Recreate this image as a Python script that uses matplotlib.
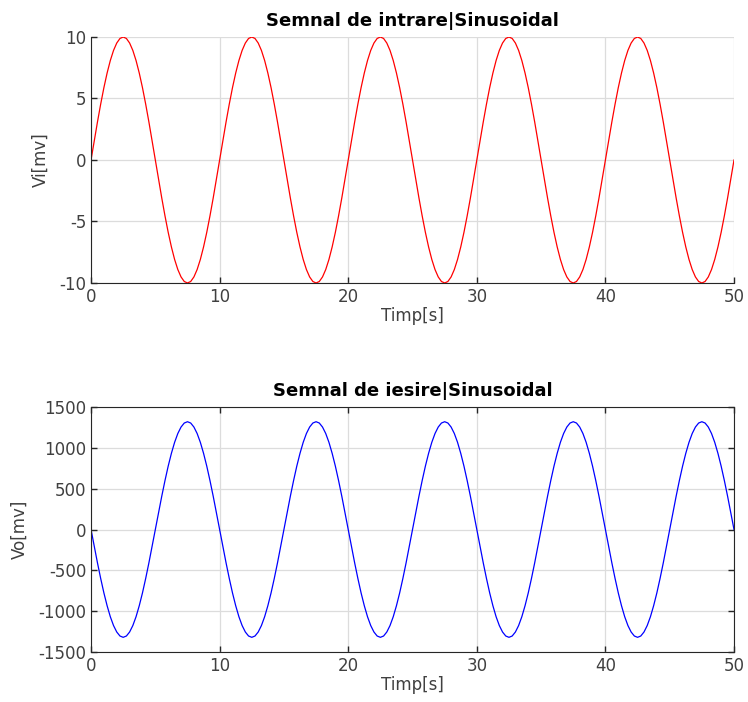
import numpy as np
import matplotlib.pyplot as plt

plt.rcParams["axes.unicode_minus"] = False

# Time axis: 0 .. 50 s, sampled every 0.25 s
t = np.arange(201) * 0.25

# Input signal Vi [mV] (period 10 s, amplitude 10)
vi = [
    0, 1.56, 3.09, 4.54, 5.88, 7.07, 8.09, 8.91, 9.51, 9.88,
    10, 9.88, 9.51, 8.91, 8.09, 7.07, 5.88, 4.54, 3.09, 1.56,
    0, -1.56, -3.09, -4.54, -5.88, -7.07, -8.09, -8.91, -9.51, -9.88,
    -10, -9.88, -9.51, -8.91, -8.09, -7.07, -5.88, -4.54, -3.09, -1.56,
    0, 1.56, 3.09, 4.54, 5.88, 7.07, 8.09, 8.91, 9.51, 9.88,
    10, 9.88, 9.51, 8.91, 8.09, 7.07, 5.88, 4.54, 3.09, 1.56,
    0, -1.56, -3.09, -4.54, -5.88, -7.07, -8.09, -8.91, -9.51, -9.88,
    -10, -9.88, -9.51, -8.91, -8.09, -7.07, -5.88, -4.54, -3.09, -1.56,
    0, 1.56, 3.09, 4.54, 5.88, 7.07, 8.09, 8.91, 9.51, 9.88,
    10, 9.88, 9.51, 8.91, 8.09, 7.07, 5.88, 4.54, 3.09, 1.56,
    0, -1.56, -3.09, -4.54, -5.88, -7.07, -8.09, -8.91, -9.51, -9.88,
    -10, -9.88, -9.51, -8.91, -8.09, -7.07, -5.88, -4.54, -3.09, -1.56,
    0, 1.56, 3.09, 4.54, 5.88, 7.07, 8.09, 8.91, 9.51, 9.88,
    10, 9.88, 9.51, 8.91, 8.09, 7.07, 5.88, 4.54, 3.09, 1.56,
    0, -1.56, -3.09, -4.54, -5.88, -7.07, -8.09, -8.91, -9.51, -9.88,
    -10, -9.88, -9.51, -8.91, -8.09, -7.07, -5.88, -4.54, -3.09, -1.56,
    0, 1.56, 3.09, 4.54, 5.88, 7.07, 8.09, 8.91, 9.51, 9.88,
    10, 9.88, 9.51, 8.91, 8.09, 7.07, 5.88, 4.54, 3.09, 1.56,
    0, -1.56, -3.09, -4.54, -5.88, -7.07, -8.09, -8.91, -9.51, -9.88,
    -10, -9.88, -9.51, -8.91, -8.09, -7.07, -5.88, -4.54, -3.09, -1.56,
    0,
]

# Output signal Vo [mV] (inverted, peak ~1320)
vo = [
    0, -206, -408, -599, -776, -933, -1068, -1176, -1255, -1304,
    -1320, -1304, -1255, -1176, -1068, -933, -776, -599, -408, -206,
    0, 206, 408, 599, 776, 933, 1068, 1176, 1255, 1304,
    1320, 1304, 1255, 1176, 1068, 933, 776, 599, 408, 206,
    0, -206, -408, -599, -776, -933, -1068, -1176, -1255, -1304,
    -1320, -1304, -1255, -1176, -1068, -933, -776, -599, -408, -206,
    0, 206, 408, 599, 776, 933, 1068, 1176, 1255, 1304,
    1320, 1304, 1255, 1176, 1068, 933, 776, 599, 408, 206,
    0, -206, -408, -599, -776, -933, -1068, -1176, -1255, -1304,
    -1320, -1304, -1255, -1176, -1068, -933, -776, -599, -408, -206,
    0, 206, 408, 599, 776, 933, 1068, 1176, 1255, 1304,
    1320, 1304, 1255, 1176, 1068, 933, 776, 599, 408, 206,
    0, -206, -408, -599, -776, -933, -1068, -1176, -1255, -1304,
    -1320, -1304, -1255, -1176, -1068, -933, -776, -599, -408, -206,
    0, 206, 408, 599, 776, 933, 1068, 1176, 1255, 1304,
    1320, 1304, 1255, 1176, 1068, 933, 776, 599, 408, 206,
    0, -206, -408, -599, -776, -933, -1068, -1176, -1255, -1304,
    -1320, -1304, -1255, -1176, -1068, -933, -776, -599, -408, -206,
    0, 206, 408, 599, 776, 933, 1068, 1176, 1255, 1304,
    1320, 1304, 1255, 1176, 1068, 933, 776, 599, 408, 206,
    0,
]

xticks = [0, 10, 20, 30, 40, 50]
vi_ticks = [-10, -5, 0, 5, 10]
vo_ticks = [-1500, -1000, -500, 0, 500, 1000, 1500]

dark = "#262626"
labelc = "#404040"
gridc = "#dcdcdc"

fig = plt.figure(figsize=(7.48, 7.02), dpi=100)
ax1 = fig.add_axes([0.1217, 0.5969, 0.8596, 0.3504])
ax2 = fig.add_axes([0.1217, 0.0712, 0.8596, 0.3490])


def style(ax, box):
    ax.grid(True, color=gridc, linewidth=0.9)
    ax.set_axisbelow(True)
    ax.set_xlim(0, 50)
    ax.set_xticks(xticks)
    ax.tick_params(direction="in", length=4, width=1, colors=dark,
                   labelsize=12, labelcolor=labelc,
                   top=box, right=box)
    for side in ["left", "bottom"]:
        ax.spines[side].set_color(dark)
    for side in ["top", "right"]:
        if box:
            ax.spines[side].set_color(dark)
        else:
            ax.spines[side].set_visible(False)


ax1.plot(t, vi, color="red", linewidth=0.9)
style(ax1, False)
ax1.set_ylim(-10, 10)
ax1.set_yticks(vi_ticks)
ax1.set_title("Semnal de intrare|Sinusoidal", fontsize=13,
              fontweight="bold", color="black", pad=8)
ax1.set_xlabel("Timp[s]", fontsize=12, color=labelc, labelpad=1)
ax1.set_ylabel("Vi[mv]", fontsize=12, color=labelc, labelpad=7)

ax2.plot(t, vo, color="blue", linewidth=0.9)
style(ax2, True)
ax2.set_ylim(-1500, 1500)
ax2.set_yticks(vo_ticks)
ax2.set_title("Semnal de iesire|Sinusoidal", fontsize=13,
              fontweight="bold", color="black", pad=8)
ax2.set_xlabel("Timp[s]", fontsize=12, color=labelc, labelpad=1)
ax2.set_ylabel("Vo[mv]", fontsize=12, color=labelc, labelpad=7)

fig.savefig("out.png", dpi=100)
